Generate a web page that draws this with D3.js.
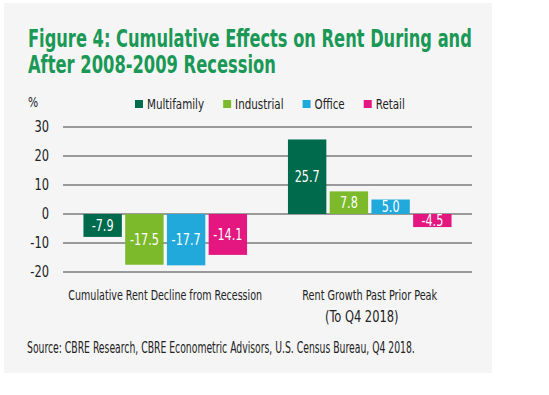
<!DOCTYPE html>
<html>
<head>
<meta charset="utf-8">
<script src="https://cdn.jsdelivr.net/npm/d3@7"></script>
<style>
  body { margin: 0; background: #fff; }
  svg text { font-family: "Liberation Sans Narrow", "DejaVu Sans Condensed", "Roboto Condensed", sans-serif; font-stretch: condensed; }
</style>
</head>
<body>
<svg id="chart" width="549" height="395"></svg>
<script>
// chart data
var titleLines = ["Figure 4: Cumulative Effects on Rent During and", "After 2008-2009 Recession"];
var categories = ["Cumulative Rent Decline from Recession", "Rent Growth Past Prior Peak"];
var categorySubtitles = ["", "(To Q4 2018)"];
var seriesNames = ["Multifamily", "Industrial", "Office", "Retail"];
var multifamily = [-7.9, 25.7];
var industrial = [-17.5, 7.8];
var office = [-17.7, 5.0];
var retail = [-14.1, -4.5];
var yTicks = [-20, -10, 0, 10, 20, 30];
var sourceNote = "Source: CBRE Research, CBRE Econometric Advisors, U.S. Census Bureau, Q4 2018.";

var colors = ["#006a4d", "#7cba2c", "#22a9dc", "#e4167f"];
var seriesValues = [multifamily, industrial, office, retail];

// squeeze text horizontally (around its anchor x) so it looks like the condensed face
// k: scale factor, or pass a function returning a target width
function squeeze(sel, k) {
  sel.each(function(d, i) {
    var w = this.getComputedTextLength();
    var f = typeof k === "function" ? k(d, i) / w : k;
    var ax = +this.getAttribute("x") || 0;
    this.setAttribute("transform",
      "translate(" + ax + ",0) scale(" + f + ",1) translate(" + (-ax) + ",0)");
    this.__width = w * f;
  });
}

var svg = d3.select("#chart");

// grey panel behind everything
svg.append("rect")
    .attr("x", 4).attr("y", 3)
    .attr("width", 488).attr("height", 370)
    .attr("fill", "#f5f5f5");

// title
var titleWidths = [444, 248];
var title = svg.selectAll(".title")
    .data(titleLines)
  .enter().append("text")
    .attr("class", "title")
    .attr("x", 28)
    .attr("y", function(d, i) { return 47 + i * 26; })
    .style("font-size", "24px")
    .style("font-weight", "bold")
    .style("fill", "#1a9856")
    .text(function(d) { return d; });
squeeze(title, function(d, i) { return titleWidths[i]; });

// scales
var x0 = d3.scaleBand()
    .domain(categories)
    .range([63, 472])
    .paddingInner(0.2)
    .paddingOuter(0.1);

var x1 = d3.scaleBand()
    .domain(seriesNames)
    .range([0, x0.bandwidth()])
    .paddingInner(0.08);

var y = d3.scaleLinear()
    .domain([-20, 30])
    .range([272, 127]);

// gridlines
svg.selectAll(".grid")
    .data(yTicks)
  .enter().append("line")
    .attr("x1", 63).attr("x2", 472)
    .attr("y1", function(d) { return y(d); })
    .attr("y2", function(d) { return y(d); })
    .attr("stroke", "#9a9a9a")
    .attr("stroke-width", 2);

// y axis labels
var yAxis = svg.append("g")
    .attr("transform", "translate(55,0)")
    .call(d3.axisLeft(y).tickValues(yTicks).tickSize(0).tickPadding(6)
      .tickFormat(function(d) { return String(d); }));
yAxis.select(".domain").remove();
yAxis.selectAll("text")
    .style("font-size", "15px")
    .style("fill", "#222")
    .attr("font-family", null);
squeeze(yAxis.selectAll("text"), 0.85);

var pct = svg.append("text")
    .attr("x", 28).attr("y", 107)
    .style("font-size", "14px")
    .style("fill", "#222")
    .text("%");
squeeze(pct, 0.85);

// legend
var legend = svg.append("g");
var lx = 135;
seriesNames.forEach(function(name, i) {
  legend.append("rect")
      .attr("x", lx).attr("y", 100)
      .attr("width", 8).attr("height", 8)
      .attr("fill", colors[i]);
  var t = legend.append("text")
      .attr("x", lx + 12).attr("y", 109)
      .style("font-size", "14px")
      .style("fill", "#222")
      .text(name);
  squeeze(t, 0.82);
  lx += 12 + t.node().__width + 19;
});

// bars
var groups = svg.selectAll(".group")
    .data(categories)
  .enter().append("g")
    .attr("transform", function(d) { return "translate(" + x0(d) + ",0)"; });

groups.each(function(cat, ci) {
  var g = d3.select(this);
  var rows = seriesNames.map(function(s, si) {
    return {name: s, value: seriesValues[si][ci], color: colors[si]};
  });

  g.selectAll("rect")
      .data(rows)
    .enter().append("rect")
      .attr("x", function(d) { return x1(d.name); })
      .attr("y", function(d) { return y(Math.max(0, d.value)); })
      .attr("width", x1.bandwidth())
      .attr("height", function(d) { return Math.abs(y(d.value) - y(0)); })
      .attr("fill", function(d) { return d.color; });

  var vals = g.selectAll(".val")
      .data(rows)
    .enter().append("text")
      .attr("class", "val")
      .attr("x", function(d) { return x1(d.name) + x1.bandwidth() / 2; })
      .attr("y", function(d) { return (y(d.value) + y(0)) / 2; })
      .attr("text-anchor", "middle")
      .attr("dominant-baseline", "central")
      .style("font-size", "16px")
      .style("fill", "#fff")
      .text(function(d) { return d.value.toFixed(1); });
  squeeze(vals, 0.78);
});

// category labels
var catWidths = [194, 135];
var cats = svg.selectAll(".cat")
    .data(categories)
  .enter().append("text")
    .attr("x", function(d) { return x0(d) + x0.bandwidth() / 2; })
    .attr("y", 300)
    .attr("text-anchor", "middle")
    .style("font-size", "14px")
    .style("fill", "#222")
    .text(function(d) { return d; });
squeeze(cats, function(d, i) { return catWidths[i]; });

var subs = svg.selectAll(".sub")
    .data(categories.filter(function(d, i) { return categorySubtitles[i] != ""; }))
  .enter().append("text")
    .attr("x", function(d) { return x0(d) + x0.bandwidth() / 2 - 8; })
    .attr("y", 322)
    .attr("text-anchor", "middle")
    .style("font-size", "15px")
    .style("fill", "#222")
    .text(function(d) { return categorySubtitles[categories.indexOf(d)]; });
squeeze(subs, 0.85);

// source note
var src = svg.append("text")
    .attr("x", 27).attr("y", 353)
    .style("font-size", "15px")
    .style("fill", "#222")
    .text(sourceNote);
squeeze(src, function() { return 388; });
</script>
</body>
</html>
